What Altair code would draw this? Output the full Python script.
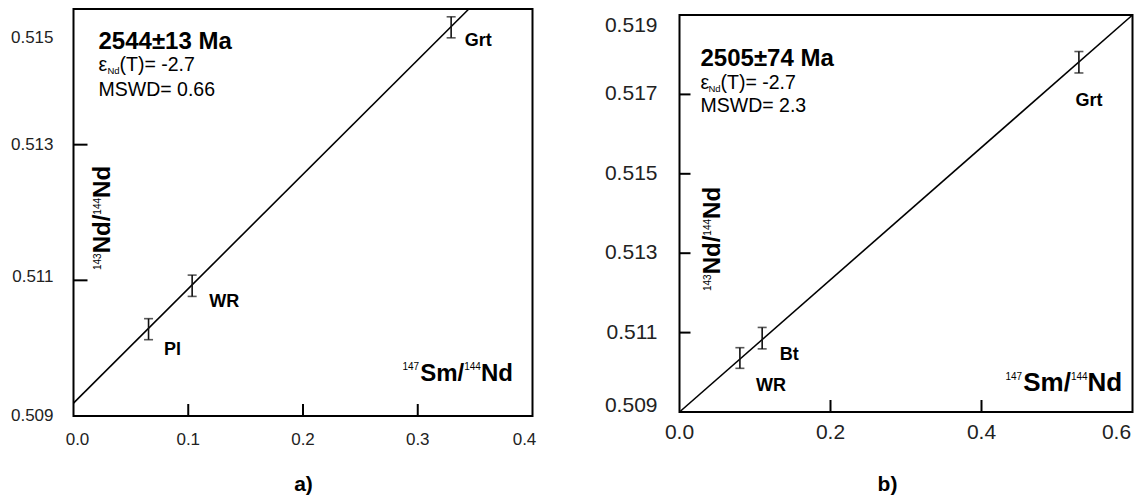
import altair as alt
import pandas as pd

FONT = "Liberation Sans"

# ---------------- panel a) ----------------
a_mineral = ["Pl", "WR", "Grt"]
a_sm = [0.0654, 0.1034, 0.3291]          # 147Sm/144Nd
a_nd = [0.51028, 0.51092, 0.51473]       # 143Nd/144Nd
a_err = [0.000155, 0.000157, 0.000155]
a_iso_x = [0.0, 0.3445]
a_iso_y = [0.50919, 0.515]
a_xdom = [0.0, 0.4]
a_ydom = [0.509, 0.515]
a_xticks = [0.0, 0.1, 0.2, 0.3, 0.4]
a_yticks = [0.509, 0.511, 0.513, 0.515]
a_age = "2544±13 Ma"
a_eps = "(T)= -2.7"
a_mswd = "MSWD= 0.66"
a_tag = "a)"

# ---------------- panel b) ----------------
b_mineral = ["WR", "Bt", "Grt"]
b_sm = [0.080, 0.1095, 0.529]
b_nd = [0.51036, 0.51086, 0.51781]
b_err = [0.00026, 0.00027, 0.00027]
b_iso_x = [0.0, 0.6]
b_iso_y = [0.509, 0.519]
b_xdom = [0.0, 0.6]
b_ydom = [0.509, 0.519]
b_xticks = [0.0, 0.2, 0.4, 0.6]
b_yticks = [0.509, 0.511, 0.513, 0.515, 0.517, 0.519]
b_age = "2505±74 Ma"
b_eps = "(T)= -2.7"
b_mswd = "MSWD= 2.3"
b_tag = "b)"


def txt(s, x, y, size, bold=False, angle=None, align="left", baseline="alphabetic"):
    mk = dict(fontSize=size, font=FONT, fontWeight="bold" if bold else "normal",
              align=align, baseline=baseline, color="black")
    if angle is not None:
        mk["angle"] = angle
    return alt.Chart(pd.DataFrame({"t": [s]})).mark_text(**mk).encode(
        x=alt.value(x), y=alt.value(y), text="t:N")


def panel(mineral, sm, nd, err, iso_x, iso_y, xdom, ydom, xticks, yticks,
          age, eps, mswd, tag, st):
    xs = alt.Scale(domain=xdom, nice=False, zero=False)
    yk = dict(domain=ydom, nice=False, zero=False)
    if "rangeMax" in st:
        yk["rangeMax"] = st["rangeMax"]
    ys = alt.Scale(**yk)

    X = lambda f: alt.X(f, scale=xs, axis=None)
    Y = lambda f: alt.Y(f, scale=ys, axis=None)

    pts = pd.DataFrame({"mineral": mineral, "x": sm, "y": nd, "err": err})
    pts["lo"] = pts["y"] - pts["err"]
    pts["hi"] = pts["y"] + pts["err"]

    frame = alt.Chart(pd.DataFrame({"x0": [xdom[0]], "x1": [xdom[1]],
                                    "y0": [ydom[0]], "y1": [ydom[1]]})).mark_rect(
        fillOpacity=0, stroke="black", strokeWidth=2).encode(
        x=X("x0:Q"), x2="x1:Q", y=Y("y0:Q"), y2="y1:Q")

    iso = alt.Chart(pd.DataFrame({"x": iso_x, "y": iso_y})).mark_line(
        color="black", strokeWidth=1.6).encode(x=X("x:Q"), y=Y("y:Q"))

    # inward tick marks
    ytk = pd.DataFrame({"y": [t for t in yticks if ydom[0] < t < ydom[1]], "x": xdom[0]})
    yrules = alt.Chart(ytk).mark_rule(color="black", strokeWidth=2,
                                      x2Offset=st["ytick_len"]).encode(
        x=X("x:Q"), x2="x:Q", y=Y("y:Q"))
    xtk = pd.DataFrame({"x": [t for t in xticks if xdom[0] < t < xdom[1]], "y": ydom[0]})
    xrules = alt.Chart(xtk).mark_rule(color="black", strokeWidth=2,
                                      y2Offset=-st["xtick_len"]).encode(
        x=X("x:Q"), y=Y("y:Q"), y2="y:Q")

    # tick labels
    ticklabels = []
    for i, t in enumerate(xticks):
        dx, dy = st["xlab_off"].get(i, (0, 0))
        d = pd.DataFrame({"v": [t], "y": [ydom[0]], "lab": [f"{t:.1f}"]})
        ticklabels.append(alt.Chart(d).mark_text(
            font=FONT, fontSize=st["xlab_size"], color="#222", align="center",
            baseline="middle", dx=dx, dy=st["xlab_dy"] + dy).encode(
            x=X("v:Q"), y=Y("y:Q"), text="lab:N"))
    for i, t in enumerate(yticks):
        dx, dy = st["ylab_off"].get(i, (0, 0))
        d = pd.DataFrame({"v": [t], "x": [xdom[0]], "lab": [f"{t:.3f}"]})
        ticklabels.append(alt.Chart(d).mark_text(
            font=FONT, fontSize=st["ylab_size"], color="#222", align="right",
            baseline="middle", dx=-st["ylab_pad"] + dx, dy=dy).encode(
            x=X("x:Q"), y=Y("v:Q"), text="lab:N"))

    bars = alt.Chart(pts).mark_rule(color="#111", strokeWidth=1.6).encode(
        x=X("x:Q"), y=Y("lo:Q"), y2="hi:Q")
    cap_lo = alt.Chart(pts).mark_tick(orient="horizontal", size=9, thickness=1.6,
                                      color="#111").encode(x=X("x:Q"), y=Y("lo:Q"))
    cap_hi = alt.Chart(pts).mark_tick(orient="horizontal", size=9, thickness=1.6,
                                      color="#111").encode(x=X("x:Q"), y=Y("hi:Q"))

    labels = []
    for m in mineral:
        dx, dy = st["lab_off"][m]
        labels.append(alt.Chart(pts).transform_filter(alt.datum.mineral == m).mark_text(
            dx=dx, dy=dy, fontSize=18, fontWeight="bold", font=FONT,
            align="center", baseline="middle", color="black").encode(
            x=X("x:Q"), y=Y("y:Q"), text="mineral:N"))

    ax, ay = st["age_pos"]
    ex, ey = st["eps_pos"]
    mx, my = st["mswd_pos"]
    texts = [
        txt(age, ax, ay, 24, bold=True),
        txt("ε", ex, ey, 19.5),
        txt("Nd", ex + st["nd_dx"], ey + 3, 9.5),
        txt(eps, ex + st["t_dx"], ey, 19.5),
        txt(mswd, mx, my, 19.5),
    ]
    # x-axis title inside the frame: 147Sm/144Nd
    tx, tyb, tys, tsz = st["xt"]
    w_sup = 16.7
    w_sm = 1.834 * tsz
    texts += [
        txt("147", tx, tys, 10),
        txt("Sm/", tx + w_sup + 1, tyb, tsz, bold=True),
        txt("144", tx + w_sup + 1 + w_sm, tys, 10),
        txt("Nd", tx + 2 * w_sup + 1 + w_sm, tyb, tsz, bold=True),
    ]
    # y-axis title, rotated: 143Nd/144Nd
    yx_sup, yx_main, yy0 = st["yt"]
    w_ndsl = 1.611 * 24
    texts += [
        txt("143", yx_sup, yy0, 10, angle=270),
        txt("Nd/", yx_main, yy0 - w_sup, 24, bold=True, angle=270),
        txt("144", yx_sup, yy0 - w_sup - w_ndsl, 10, angle=270),
        txt("Nd", yx_main, yy0 - 2 * w_sup - w_ndsl, 24, bold=True, angle=270),
    ]
    gx, gy = st["tag_pos"]
    texts.append(txt(tag, gx, gy, 21, bold=True, align="center"))

    return alt.layer(frame, iso, yrules, xrules, *ticklabels, bars, cap_lo, cap_hi,
                     *labels, *texts).properties(width=st["w"], height=st["h"])


st_a = dict(
    w=459, h=407,
    xlab_size=17, xlab_dy=24, xlab_off={0: (4, 0), 4: (-8, 0)},
    ylab_size=17, ylab_pad=20, ylab_off={3: (0, 29), 1: (0, -3)},
    ytick_len=14, xtick_len=12,
    lab_off={"Pl": (24, 21), "WR": (32, 16), "Grt": (27, 14)},
    age_pos=(25, 40), eps_pos=(25, 62), mswd_pos=(25, 87), nd_dx=9, t_dx=21,
    xt=(329, 372, 361, 24),
    yt=(27, 36, 261),
    tag_pos=(230, 482),
)
st_b = dict(
    w=453, h=403, rangeMax=6,
    xlab_size=21, xlab_dy=21, xlab_off={3: (-16, 0)},
    ylab_size=21, ylab_pad=22, ylab_off={0: (0, -6), 5: (0, 11)},
    ytick_len=11, xtick_len=12,
    lab_off={"WR": (31, 28), "Bt": (27, 17), "Grt": (10, 39)},
    age_pos=(21, 57), eps_pos=(21, 80), mswd_pos=(21, 103), nd_dx=8, t_dx=20,
    xt=(326, 382, 371, 26),
    yt=(31, 40.5, 282),
    tag_pos=(208, 482),
)

pa = panel(a_mineral, a_sm, a_nd, a_err, a_iso_x, a_iso_y, a_xdom, a_ydom,
           a_xticks, a_yticks, a_age, a_eps, a_mswd, a_tag, st_a)
pb = panel(b_mineral, b_sm, b_nd, b_err, b_iso_x, b_iso_y, b_xdom, b_ydom,
           b_xticks, b_yticks, b_age, b_eps, b_mswd, b_tag, st_b)

chart = alt.hconcat(pa, pb, spacing=147, bounds="flush").properties(
    padding={"left": 10.5, "top": 5, "right": 0, "bottom": 0},
    background="white",
).configure(font=FONT).configure_view(strokeWidth=0)

chart.save("out.html", embed_options={"renderer": "svg", "actions": False})
